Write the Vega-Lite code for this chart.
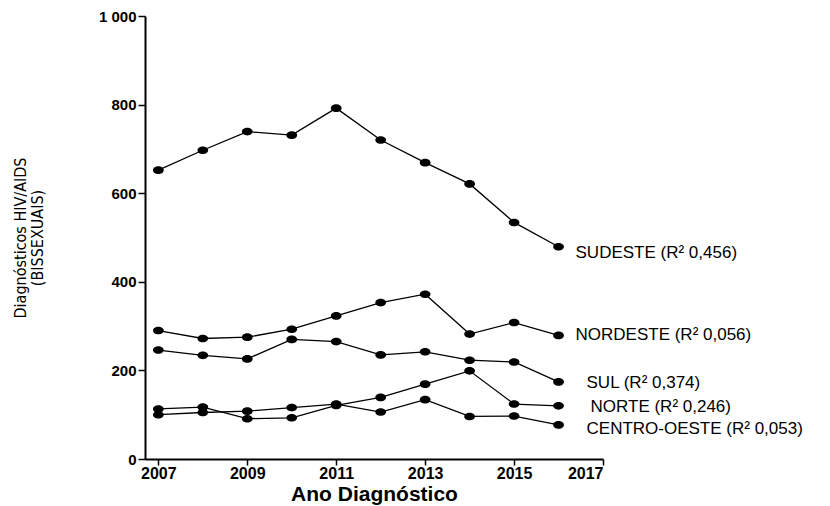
{
  "$schema": "https://vega.github.io/schema/vega-lite/v6.json",
  "width": 458,
  "height": 443,
  "autosize": {"type": "none"},
  "padding": {"left": 145, "top": 16, "right": 227, "bottom": 47},
  "config": {
    "view": {"stroke": null},
    "locale": {"number": {"decimal": ",", "thousands": " ", "grouping": [3], "currency": ["", ""]}},
    "font": "Liberation Sans"
  },
  "datasets": {
    "series": [
      {"regiao": "SUDESTE", "ano": 2007, "casos": 652},
      {"regiao": "SUDESTE", "ano": 2008, "casos": 697},
      {"regiao": "SUDESTE", "ano": 2009, "casos": 739},
      {"regiao": "SUDESTE", "ano": 2010, "casos": 731},
      {"regiao": "SUDESTE", "ano": 2011, "casos": 792},
      {"regiao": "SUDESTE", "ano": 2012, "casos": 720},
      {"regiao": "SUDESTE", "ano": 2013, "casos": 669},
      {"regiao": "SUDESTE", "ano": 2014, "casos": 621},
      {"regiao": "SUDESTE", "ano": 2015, "casos": 534},
      {"regiao": "SUDESTE", "ano": 2016, "casos": 479},
      {"regiao": "NORDESTE", "ano": 2007, "casos": 290},
      {"regiao": "NORDESTE", "ano": 2008, "casos": 272},
      {"regiao": "NORDESTE", "ano": 2009, "casos": 275},
      {"regiao": "NORDESTE", "ano": 2010, "casos": 293},
      {"regiao": "NORDESTE", "ano": 2011, "casos": 323},
      {"regiao": "NORDESTE", "ano": 2012, "casos": 353},
      {"regiao": "NORDESTE", "ano": 2013, "casos": 372},
      {"regiao": "NORDESTE", "ano": 2014, "casos": 282},
      {"regiao": "NORDESTE", "ano": 2015, "casos": 308},
      {"regiao": "NORDESTE", "ano": 2016, "casos": 279},
      {"regiao": "SUL", "ano": 2007, "casos": 246},
      {"regiao": "SUL", "ano": 2008, "casos": 234},
      {"regiao": "SUL", "ano": 2009, "casos": 226},
      {"regiao": "SUL", "ano": 2010, "casos": 270},
      {"regiao": "SUL", "ano": 2011, "casos": 265},
      {"regiao": "SUL", "ano": 2012, "casos": 235},
      {"regiao": "SUL", "ano": 2013, "casos": 242},
      {"regiao": "SUL", "ano": 2014, "casos": 223},
      {"regiao": "SUL", "ano": 2015, "casos": 219},
      {"regiao": "SUL", "ano": 2016, "casos": 174},
      {"regiao": "NORTE", "ano": 2007, "casos": 113},
      {"regiao": "NORTE", "ano": 2008, "casos": 117},
      {"regiao": "NORTE", "ano": 2009, "casos": 91},
      {"regiao": "NORTE", "ano": 2010, "casos": 93},
      {"regiao": "NORTE", "ano": 2011, "casos": 121},
      {"regiao": "NORTE", "ano": 2012, "casos": 139},
      {"regiao": "NORTE", "ano": 2013, "casos": 169},
      {"regiao": "NORTE", "ano": 2014, "casos": 199},
      {"regiao": "NORTE", "ano": 2015, "casos": 124},
      {"regiao": "NORTE", "ano": 2016, "casos": 120},
      {"regiao": "CENTRO-OESTE", "ano": 2007, "casos": 100},
      {"regiao": "CENTRO-OESTE", "ano": 2008, "casos": 105},
      {"regiao": "CENTRO-OESTE", "ano": 2009, "casos": 108},
      {"regiao": "CENTRO-OESTE", "ano": 2010, "casos": 116},
      {"regiao": "CENTRO-OESTE", "ano": 2011, "casos": 124},
      {"regiao": "CENTRO-OESTE", "ano": 2012, "casos": 106},
      {"regiao": "CENTRO-OESTE", "ano": 2013, "casos": 134},
      {"regiao": "CENTRO-OESTE", "ano": 2014, "casos": 96},
      {"regiao": "CENTRO-OESTE", "ano": 2015, "casos": 97},
      {"regiao": "CENTRO-OESTE", "ano": 2016, "casos": 77}
    ],
    "labels": [
      {"regiao": "SUDESTE", "grupo": "a", "ano": 2016, "casos": 466, "label": "SUDESTE (R² 0,456)"},
      {"regiao": "NORDESTE", "grupo": "a", "ano": 2016, "casos": 279, "label": "NORDESTE (R² 0,056)"},
      {"regiao": "SUL", "grupo": "b", "ano": 2016, "casos": 172, "label": "SUL (R² 0,374)"},
      {"regiao": "NORTE", "grupo": "c", "ano": 2016, "casos": 118, "label": "NORTE (R² 0,246)"},
      {"regiao": "CENTRO-OESTE", "grupo": "b", "ano": 2016, "casos": 68, "label": "CENTRO-OESTE (R² 0,053)"}
    ]
  },
  "layer": [
    {
      "data": {"name": "series"},
      "mark": {"type": "line", "color": "black", "strokeWidth": 1.3},
      "encoding": {
        "x": {
          "field": "ano", "type": "quantitative",
          "scale": {"domain": [2006.7, 2017], "nice": false, "zero": false},
          "axis": {
            "values": [2007, 2009, 2011, 2013, 2015, 2017], "format": "d",
            "title": "Ano Diagnóstico", "titleFontSize": 21, "titleFontWeight": "bold",
            "titleColor": "black", "titlePadding": 2,
            "labelFontSize": 16, "labelFontWeight": "bold", "labelColor": "black",
            "domainColor": "black", "domainWidth": 2, "tickColor": "black", "tickWidth": 1.5,
            "tickSize": 6, "labelPadding": 0, "grid": false
          }
        },
        "y": {
          "field": "casos", "type": "quantitative",
          "scale": {"domain": [0, 1000], "nice": false},
          "axis": {
            "values": [0, 200, 400, 600, 800, 1000], "format": ",d",
            "title": ["Diagnósticos HIV/AIDS", "(BISSEXUAIS)"],
            "titleFont": "DejaVu Sans Condensed, Liberation Sans", "titleFontSize": 16, "titleFontWeight": "normal",
            "titleColor": "black", "titlePadding": 53, "titleLineHeight": 17,
            "labelFontSize": 15, "labelFontWeight": "bold", "labelColor": "black",
            "domainColor": "black", "domainWidth": 2, "tickColor": "black", "tickWidth": 1.5,
            "tickSize": 7, "labelPadding": 2, "grid": false
          }
        },
        "detail": {"field": "regiao"}
      }
    },
    {
      "data": {"name": "series"},
      "mark": {"type": "point", "filled": true, "color": "black", "opacity": 1, "size": 80, "shape": "M-1.2,0A1.2,0.85 0 1,0 1.2,0A1.2,0.85 0 1,0 -1.2,0Z"},
      "encoding": {
        "x": {"field": "ano", "type": "quantitative"},
        "y": {"field": "casos", "type": "quantitative"}
      }
    },
    {
      "data": {"name": "labels"},
      "transform": [{"filter": "datum.grupo == 'a'"}],
      "mark": {"type": "text", "align": "left", "baseline": "middle", "dx": 17, "fontSize": 17, "color": "black", "font": "Liberation Sans"},
      "encoding": {
        "x": {"field": "ano", "type": "quantitative"},
        "y": {"field": "casos", "type": "quantitative"},
        "text": {"field": "label"}
      }
    },
    {
      "data": {"name": "labels"},
      "transform": [{"filter": "datum.grupo == 'b'"}],
      "mark": {"type": "text", "align": "left", "baseline": "middle", "dx": 28, "fontSize": 17, "color": "black", "font": "Liberation Sans"},
      "encoding": {
        "x": {"field": "ano", "type": "quantitative"},
        "y": {"field": "casos", "type": "quantitative"},
        "text": {"field": "label"}
      }
    },
    {
      "data": {"name": "labels"},
      "transform": [{"filter": "datum.grupo == 'c'"}],
      "mark": {"type": "text", "align": "left", "baseline": "middle", "dx": 32, "fontSize": 17, "color": "black", "font": "Liberation Sans"},
      "encoding": {
        "x": {"field": "ano", "type": "quantitative"},
        "y": {"field": "casos", "type": "quantitative"},
        "text": {"field": "label"}
      }
    }
  ]
}
